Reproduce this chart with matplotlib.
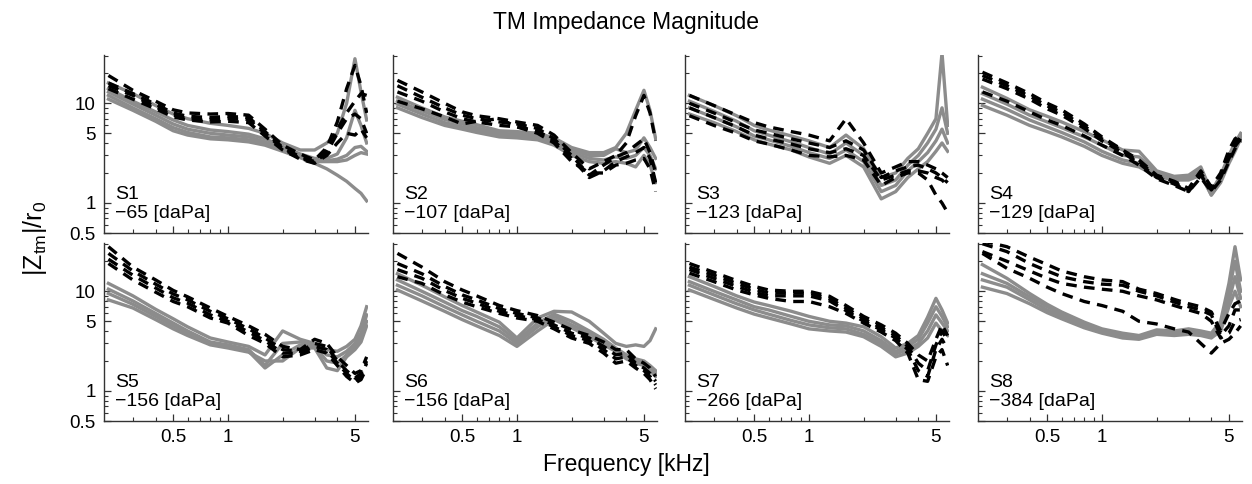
import numpy as np
import matplotlib
matplotlib.use("Agg")
import matplotlib.pyplot as plt
from matplotlib.ticker import FixedLocator, NullFormatter

plt.rcParams['font.family'] = ['Liberation Sans', 'DejaVu Sans']

# frequency grid in kHz (shared by every curve)
freq = [0.22, 0.3, 0.4, 0.5, 0.6, 0.8, 1.0, 1.3, 1.6, 2.0, 2.5, 3.0, 3.5, 4.0, 4.5, 5.0, 5.4, 5.8]

labels = ["S1", "S2", "S3", "S4", "S5", "S6", "S7", "S8"]
pressures = [-65, -107, -123, -129, -156, -156, -266, -384]

# |Z_tm|/r0: gray solid curves and black dashed curves
s1_gray = [
    [16.0, 12.5, 9.5, 7.8, 7.0, 6.3, 6.0, 5.6, 5.0, 4.0, 3.4, 3.4, 4.0, 5.0, 10.0, 28.0, 13.0, 6.8],
    [14.0, 10.5, 8.2, 6.8, 6.0, 5.4, 5.2, 4.9, 4.4, 3.7, 3.1, 2.8, 2.8, 3.1, 4.5, 8.5, 6.0, 4.0],
    [13.0, 9.8, 7.6, 6.2, 5.5, 5.0, 4.8, 4.6, 4.1, 3.5, 3.0, 2.65, 2.65, 2.75, 3.0, 3.6, 3.7, 3.3],
    [12.0, 9.0, 7.0, 5.7, 5.1, 4.6, 4.5, 4.3, 3.9, 3.4, 2.9, 2.6, 2.6, 2.6, 2.7, 3.0, 3.2, 3.1],
    [11.0, 8.5, 6.6, 5.3, 4.8, 4.4, 4.3, 4.1, 3.8, 3.3, 2.85, 2.5, 2.2, 1.9, 1.65, 1.4, 1.25, 1.05],
]
s1_dash = [
    [19.0, 13.5, 10.5, 8.6, 8.0, 7.8, 7.9, 7.6, 5.5, 3.8, 3.1, 2.7, 3.6, 6.5, 14.0, 24.0, 15.0, 8.0],
    [16.0, 12.5, 9.8, 8.0, 7.4, 7.2, 7.4, 7.2, 5.2, 3.6, 2.9, 2.6, 3.4, 5.5, 8.0, 10.5, 12.5, 12.0],
    [15.0, 12.0, 9.2, 7.6, 7.0, 6.8, 7.0, 6.9, 5.0, 3.5, 2.8, 2.55, 3.2, 5.0, 7.0, 7.8, 7.0, 5.0],
    [14.0, 11.0, 8.8, 7.3, 6.8, 6.5, 6.6, 6.4, 4.7, 3.4, 2.75, 2.5, 3.0, 4.0, 5.0, 4.8, 5.5, 4.5],
]

s2_gray = [
    [11.5, 9.0, 7.3, 6.6, 6.1, 5.3, 5.2, 5.0, 4.5, 3.6, 3.2, 3.2, 3.6, 5.0, 8.5, 13.5, 8.5, 4.4],
    [10.5, 8.4, 6.9, 6.2, 5.7, 5.0, 4.9, 4.7, 4.2, 3.4, 3.0, 3.0, 3.5, 3.2, 3.4, 4.5, 3.6, 2.8],
    [9.8, 7.8, 6.4, 5.8, 5.4, 4.8, 4.7, 4.5, 4.0, 3.2, 2.8, 2.7, 2.9, 2.8, 3.0, 3.6, 3.0, 2.2],
    [9.0, 7.2, 6.0, 5.5, 5.1, 4.6, 4.5, 4.3, 3.8, 3.0, 2.6, 2.5, 2.6, 2.5, 2.3, 3.0, 2.4, 1.6],
]
s2_dash = [
    [17.0, 13.0, 10.0, 8.2, 7.5, 7.0, 6.5, 6.0, 4.8, 3.2, 2.2, 2.6, 3.0, 4.0, 7.5, 12.0, 8.0, 4.2],
    [15.0, 11.5, 9.0, 7.6, 7.0, 6.5, 6.2, 5.6, 4.4, 3.0, 1.9, 2.4, 2.9, 3.2, 3.8, 4.4, 3.2, 2.0],
    [13.0, 10.5, 8.2, 7.0, 6.5, 6.0, 5.8, 5.3, 4.2, 2.8, 1.8, 2.1, 2.6, 2.9, 3.2, 3.6, 2.8, 1.6],
    [10.5, 8.8, 7.3, 6.2, 6.6, 7.0, 5.8, 5.0, 4.0, 2.6, 2.0, 2.0, 2.4, 2.5, 2.7, 2.8, 2.2, 1.3],
]

s3_gray = [
    [12.0, 9.5, 7.5, 6.0, 5.4, 4.7, 4.2, 3.6, 4.8, 3.5, 1.8, 2.0, 2.8, 3.5, 5.0, 7.0, 32.0, 6.0],
    [10.5, 8.3, 6.6, 5.3, 4.8, 4.1, 3.6, 3.1, 4.0, 3.0, 1.5, 1.7, 2.4, 3.0, 4.0, 5.5, 9.0, 5.0],
    [9.0, 7.2, 5.8, 4.7, 4.3, 3.7, 3.2, 2.8, 3.4, 2.6, 1.3, 1.5, 2.1, 2.6, 3.2, 4.2, 5.5, 4.0],
    [7.8, 6.4, 5.2, 4.3, 3.9, 3.4, 2.9, 2.5, 3.0, 2.3, 1.1, 1.3, 1.8, 2.2, 2.6, 3.3, 4.0, 3.3],
]
s3_dash = [
    [12.0, 9.5, 7.6, 6.4, 5.8, 5.2, 4.8, 4.2, 7.0, 4.0, 2.0, 2.3, 2.6, 2.6, 2.4, 2.2, 2.0, 1.8],
    [10.0, 8.0, 6.4, 5.4, 5.0, 4.4, 4.0, 3.6, 4.2, 3.4, 1.8, 2.1, 2.3, 2.4, 2.2, 2.0, 1.8, 1.6],
    [9.0, 7.2, 5.8, 4.8, 4.4, 3.9, 3.5, 3.2, 3.5, 3.0, 1.7, 1.9, 2.1, 2.1, 2.0, 1.8, 1.7, 1.5],
    [7.5, 6.0, 5.0, 4.2, 3.9, 3.4, 3.0, 2.9, 3.0, 2.7, 1.5, 1.8, 2.0, 2.0, 1.7, 1.2, 1.0, 0.8],
]

s4_gray = [
    [14.5, 11.2, 8.6, 7.4, 6.5, 5.2, 4.3, 3.4, 3.3, 2.1, 1.85, 1.9, 2.3, 1.3, 1.9, 3.0, 4.0, 5.0],
    [12.5, 9.8, 7.6, 6.5, 5.7, 4.6, 3.8, 3.0, 2.9, 2.0, 1.8, 1.8, 2.1, 1.25, 1.8, 2.8, 3.7, 4.8],
    [11.0, 8.7, 6.8, 5.8, 5.1, 4.1, 3.3, 2.7, 2.5, 1.9, 1.75, 1.75, 2.0, 1.2, 1.7, 2.6, 3.5, 4.6],
    [9.5, 7.6, 6.0, 5.2, 4.6, 3.7, 3.0, 2.5, 2.3, 1.85, 1.7, 1.7, 1.9, 1.2, 1.6, 2.5, 3.3, 4.4],
]
s4_dash = [
    [20.5, 16.0, 12.5, 10.0, 8.6, 6.2, 4.6, 3.4, 2.7, 1.9, 1.65, 1.4, 2.1, 1.45, 2.0, 3.4, 4.4, 4.8],
    [19.0, 15.0, 11.8, 9.4, 8.1, 5.9, 4.4, 3.3, 2.6, 1.85, 1.6, 1.35, 2.0, 1.4, 1.9, 3.1, 4.0, 4.6],
    [17.5, 14.0, 11.0, 8.8, 7.6, 5.6, 4.2, 3.2, 2.5, 1.8, 1.55, 1.3, 1.9, 1.35, 1.8, 2.8, 3.7, 4.4],
    [13.0, 10.5, 8.2, 6.8, 6.0, 4.7, 3.8, 3.0, 2.4, 1.75, 1.5, 1.3, 1.8, 1.3, 1.7, 2.6, 3.5, 4.2],
]

s5_gray = [
    [12.0, 9.0, 6.6, 5.3, 4.4, 3.4, 3.1, 2.8, 2.3, 4.0, 3.3, 3.0, 2.6, 2.5, 2.8, 3.3, 4.5, 7.0],
    [10.5, 8.0, 6.0, 4.8, 4.0, 3.1, 2.9, 2.6, 1.8, 3.0, 3.1, 2.9, 2.3, 2.2, 2.5, 3.0, 3.8, 5.8],
    [9.5, 7.4, 5.6, 4.5, 3.8, 3.0, 2.8, 2.5, 1.7, 2.3, 2.9, 2.8, 2.0, 1.9, 2.3, 2.8, 3.4, 5.0],
    [8.2, 6.8, 5.2, 4.2, 3.6, 2.9, 2.7, 2.45, 2.0, 2.0, 2.7, 2.7, 1.7, 1.6, 2.2, 2.6, 3.1, 4.5],
]
s5_dash = [
    [28.0, 17.5, 13.0, 10.2, 8.8, 6.8, 5.6, 4.5, 3.7, 2.8, 2.6, 3.3, 3.0, 2.2, 1.8, 1.5, 1.6, 2.2],
    [24.0, 16.0, 11.8, 9.4, 8.2, 6.3, 5.3, 4.2, 3.4, 2.6, 2.5, 3.0, 2.8, 2.0, 1.6, 1.35, 1.5, 2.0],
    [21.0, 14.5, 10.8, 8.6, 7.6, 5.8, 5.0, 3.9, 3.2, 2.4, 2.4, 2.8, 2.6, 1.9, 1.5, 1.25, 1.4, 1.9],
    [19.0, 13.0, 9.8, 7.9, 7.0, 5.4, 4.8, 3.6, 3.0, 2.2, 2.3, 2.6, 2.4, 1.8, 1.4, 1.2, 1.3, 1.7],
]

s6_gray = [
    [15.0, 11.5, 8.8, 7.2, 6.2, 4.9, 3.4, 5.4, 6.3, 6.2, 5.0, 3.8, 3.0, 2.8, 2.9, 2.8, 3.2, 4.2],
    [13.0, 10.0, 7.8, 6.4, 5.6, 4.4, 3.2, 4.8, 5.9, 5.0, 4.0, 3.3, 2.7, 2.3, 2.1, 2.0, 1.8, 1.6],
    [11.5, 9.0, 7.0, 5.8, 5.0, 4.0, 3.0, 4.4, 5.6, 4.6, 3.8, 3.1, 2.6, 2.2, 2.0, 1.9, 1.7, 1.5],
    [10.3, 8.0, 6.3, 5.2, 4.5, 3.6, 2.8, 4.0, 5.2, 4.3, 3.5, 2.9, 2.5, 2.1, 1.9, 1.8, 1.6, 1.4],
]
s6_dash = [
    [24.0, 17.5, 12.5, 10.3, 9.0, 7.2, 6.4, 5.7, 4.9, 4.1, 3.6, 3.1, 2.6, 2.6, 2.1, 1.9, 1.7, 1.4],
    [19.0, 15.0, 11.2, 9.2, 8.2, 6.7, 6.0, 5.4, 4.6, 3.8, 3.4, 2.8, 2.3, 2.4, 1.9, 1.7, 1.5, 1.25],
    [16.5, 13.5, 10.2, 8.5, 7.6, 6.3, 5.7, 5.2, 4.4, 3.6, 3.2, 2.6, 2.1, 2.2, 1.8, 1.6, 1.4, 1.15],
    [14.0, 12.0, 9.2, 7.8, 7.0, 6.0, 5.4, 5.0, 4.2, 3.4, 3.0, 2.4, 1.9, 2.0, 1.7, 1.5, 1.3, 1.05],
]

s7_gray = [
    [14.0, 11.2, 9.0, 7.8, 7.2, 6.3, 5.6, 5.0, 4.8, 4.4, 3.5, 2.7, 3.0, 3.6, 5.5, 8.5, 6.5, 4.8],
    [12.5, 10.0, 8.2, 7.0, 6.5, 5.6, 5.0, 4.6, 4.5, 4.0, 3.2, 2.5, 2.8, 3.3, 4.8, 7.0, 5.6, 4.4],
    [11.5, 9.2, 7.5, 6.5, 5.9, 5.1, 4.6, 4.3, 4.2, 3.7, 3.0, 2.35, 2.6, 3.0, 4.0, 5.8, 4.8, 4.0],
    [10.3, 8.3, 6.8, 5.9, 5.4, 4.7, 4.2, 4.0, 3.9, 3.5, 2.8, 2.2, 2.4, 2.8, 3.4, 4.8, 4.0, 3.6],
]
s7_dash = [
    [19.0, 15.5, 12.8, 11.2, 10.3, 10.0, 10.0, 8.9, 7.2, 5.6, 4.6, 3.8, 3.0, 2.3, 2.0, 3.3, 4.6, 3.6],
    [17.5, 14.5, 12.0, 10.5, 9.6, 9.6, 9.6, 8.4, 6.8, 5.3, 4.3, 3.6, 2.8, 1.9, 1.6, 2.9, 4.0, 3.2],
    [16.5, 13.5, 11.2, 9.8, 9.0, 9.0, 9.0, 8.0, 6.4, 5.0, 4.1, 3.4, 2.6, 1.6, 1.4, 2.6, 3.3, 2.6],
    [15.2, 12.5, 10.3, 9.2, 8.5, 7.9, 7.9, 7.0, 6.0, 4.8, 3.9, 3.2, 2.4, 1.3, 1.25, 2.2, 2.6, 1.8],
]

s8_gray = [
    [18.5, 13.5, 9.5, 7.4, 6.2, 4.9, 4.2, 3.8, 3.6, 4.1, 4.0, 4.2, 4.0, 3.8, 5.0, 12.0, 28.0, 13.0],
    [15.0, 12.0, 8.8, 7.0, 5.9, 4.7, 4.0, 3.6, 3.5, 3.9, 3.8, 4.0, 3.8, 3.6, 4.5, 10.0, 20.0, 10.0],
    [13.0, 11.0, 8.2, 6.5, 5.6, 4.5, 3.9, 3.5, 3.4, 3.8, 3.7, 3.9, 3.7, 3.5, 4.2, 8.0, 14.0, 8.5],
    [11.0, 9.5, 7.5, 6.1, 5.3, 4.3, 3.8, 3.4, 3.3, 3.7, 3.6, 3.7, 3.6, 3.4, 4.0, 7.0, 10.0, 7.0],
]
s8_dash = [
    [32.0, 28.0, 22.0, 18.5, 16.0, 14.0, 13.0, 12.5, 10.5, 9.5, 8.3, 7.5, 7.0, 6.2, 4.0, 6.0, 7.5, 8.0],
    [30.0, 25.0, 19.0, 16.0, 14.0, 12.5, 11.8, 11.5, 10.0, 9.0, 7.8, 7.0, 6.5, 5.8, 3.6, 4.5, 6.5, 6.5],
    [25.0, 20.0, 16.0, 13.5, 12.0, 11.0, 10.5, 10.0, 9.0, 8.2, 7.2, 6.5, 6.0, 5.0, 3.4, 3.8, 5.0, 5.2],
    [24.0, 17.0, 13.5, 11.0, 9.5, 7.9, 7.2, 6.3, 5.0, 4.7, 4.2, 3.9, 3.0, 2.4, 3.0, 3.3, 3.8, 4.5],
]

grays = [s1_gray, s2_gray, s3_gray, s4_gray, s5_gray, s6_gray, s7_gray, s8_gray]
dashes = [s1_dash, s2_dash, s3_dash, s4_dash, s5_dash, s6_dash, s7_dash, s8_dash]

W, H = 1252, 484
fig = plt.figure(figsize=(W / 100, H / 100), dpi=100)

col_left = [104, 393, 685, 978]
row_top = [55, 243]
ax_w, ax_h = 264, 178

axis_color = "#333333"
for i in range(8):
    r, c = divmod(i, 4)
    ax = fig.add_axes([col_left[c] / W, 1 - (row_top[r] + ax_h) / H, ax_w / W, ax_h / H])

    for y in grays[i]:
        ax.plot(freq, y, color="#8c8c8c", lw=2.4, solid_joinstyle="round")
    for y in dashes[i]:
        ax.plot(freq, y, color="black", lw=2.4, dashes=(3.2, 2.2), dash_joinstyle="round")

    ax.set_xscale("log")
    ax.set_yscale("log")
    ax.set_xlim(0.208, 5.9)
    ax.set_ylim(0.5, 30.5)

    for s in ["top", "right"]:
        ax.spines[s].set_visible(False)
    for s in ["left", "bottom"]:
        ax.spines[s].set_color(axis_color)
        ax.spines[s].set_linewidth(1.0)

    ax.xaxis.set_major_locator(FixedLocator([0.5, 1, 5]))
    ax.xaxis.set_minor_locator(FixedLocator([0.3, 0.4, 0.6, 0.7, 0.8, 0.9, 2, 3, 4]))
    ax.yaxis.set_major_locator(FixedLocator([0.5, 1, 5, 10]))
    ax.yaxis.set_minor_locator(FixedLocator([0.6, 0.7, 0.8, 0.9, 2, 3, 4, 6, 7, 8, 9, 20, 30]))
    ax.xaxis.set_minor_formatter(NullFormatter())
    ax.yaxis.set_minor_formatter(NullFormatter())
    ax.tick_params(which="both", direction="in", color=axis_color, labelsize=13.5,
                   top=False, right=False)
    ax.tick_params(which="major", length=5, width=0.9, pad=6)
    ax.tick_params(which="minor", length=3, width=0.8)

    if c == 0:
        ax.set_yticklabels(["0.5", "1", "5", "10"])
    else:
        ax.set_yticklabels([])
    if r == 1:
        ax.set_xticklabels(["0.5", "1", "5"])
    else:
        ax.set_xticklabels([])

    ax.text(0.042, 0.06, f"{labels[i]}\n\u2212{abs(pressures[i])} [daPa]",
            transform=ax.transAxes, fontsize=14, ha="left", va="bottom", linespacing=1.2)

fig.text(0.5, 1 - 22 / H, "TM Impedance Magnitude", ha="center", va="center", fontsize=16.5)
fig.text(0.5, 1 - 465 / H, "Frequency [kHz]", ha="center", va="center", fontsize=16.5)
fig.text(0.028, 1 - 238 / H, r"$\mathregular{|Z_{tm}|/r_0}$", rotation=90, ha="center",
         va="center", fontsize=18)

fig.savefig("out.png", dpi=100)
